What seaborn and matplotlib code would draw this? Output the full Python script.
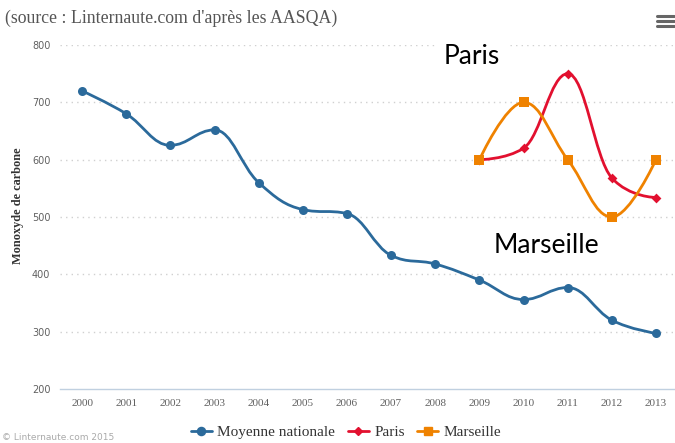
import numpy as np
import pandas as pd
import seaborn as sns
import matplotlib
matplotlib.use('Agg')
from matplotlib import pyplot as plt
from matplotlib.path import Path
from matplotlib.patches import PathPatch
from matplotlib.lines import Line2D

years = [str(y) for y in range(2000, 2014)]
moyenne = [720, 680, 625, 652, 560, 513, 506, 433, 418, 390, 356, 377, 320, 297]
paris_years = years[9:]
paris = [600, 620, 750, 568, 534]
marseille_years = years[9:]
marseille = [600, 700, 600, 500, 600]

blue = '#2b6a9b'
red = '#e2102f'
orange = '#ef8200'
serif = ['Liberation Serif', 'DejaVu Serif']


def spline_path(x, y, smoothing=1.5):
    # highcharts-like spline: bezier control points around each point
    n = len(x)
    denom = smoothing + 1
    left = [(x[i], y[i]) for i in range(n)]
    right = [(x[i], y[i]) for i in range(n)]
    for i in range(1, n - 1):
        lx = (smoothing * x[i] + x[i - 1]) / denom
        ly = (smoothing * y[i] + y[i - 1]) / denom
        rx = (smoothing * x[i] + x[i + 1]) / denom
        ry = (smoothing * y[i] + y[i + 1]) / denom
        if rx != lx:
            corr = (ry - ly) * (rx - x[i]) / (rx - lx) + y[i] - ry
            ly += corr
            ry += corr
        if ly > y[i - 1] and ly > y[i]:
            ly = max(y[i - 1], y[i])
            ry = 2 * y[i] - ly
        elif ly < y[i - 1] and ly < y[i]:
            ly = min(y[i - 1], y[i])
            ry = 2 * y[i] - ly
        if ry > y[i + 1] and ry > y[i]:
            ry = max(y[i + 1], y[i])
            ly = 2 * y[i] - ry
        elif ry < y[i + 1] and ry < y[i]:
            ry = min(y[i + 1], y[i])
            ly = 2 * y[i] - ry
        left[i] = (lx, ly)
        right[i] = (rx, ry)
    verts = [(x[0], y[0])]
    codes = [Path.MOVETO]
    for i in range(1, n):
        verts += [right[i - 1], left[i], (x[i], y[i])]
        codes += [Path.CURVE4] * 3
    return Path(verts, codes)


df = pd.concat([
    pd.DataFrame({'year': years, 'value': moyenne, 'serie': 'Moyenne nationale'}),
    pd.DataFrame({'year': paris_years, 'value': paris, 'serie': 'Paris'}),
    pd.DataFrame({'year': marseille_years, 'value': marseille, 'serie': 'Marseille'}),
])
df['pos'] = df['year'].map({y: i for i, y in enumerate(years)})

sns.set_style('white')
plt.rcParams['font.family'] = serif

fig = plt.figure(figsize=(6.75, 4.43), dpi=100)
ax = fig.add_axes([60 / 675, 1 - 389 / 443, 615 / 675, 344 / 443])

styles = {'Moyenne nationale': (blue, 'o', 6.5), 'Paris': (red, 'D', 5), 'Marseille': (orange, 's', 6.5)}
for name, (color, marker, ms) in styles.items():
    sub = df[df['serie'] == name]
    path = spline_path(sub['pos'].tolist(), sub['value'].tolist())
    ax.add_patch(PathPatch(path, facecolor='none', edgecolor=color, lw=2, zorder=3))
    sns.scatterplot(data=sub, x='pos', y='value', ax=ax, color=color, marker=marker,
                    s=ms ** 2, linewidth=0, zorder=4, legend=False)

ax.set_xlim(-0.5, 13.43)
ax.set_ylim(200, 800)
ax.set_yticks(range(200, 801, 100))
ax.set_yticklabels([str(v) for v in range(200, 801, 100)], fontsize=7, color='#606060',
                   family=['DejaVu Sans'])
ax.set_xticks(range(len(years)))
ax.set_xticklabels(years, fontsize=8, color='#606060')
ax.set_xticks(np.arange(-0.5, 13.5, 1), minor=True)
ax.tick_params(axis='x', which='major', length=0, pad=7)
ax.tick_params(axis='x', which='minor', length=5, color='#c0d0e0', width=1, direction='out')
ax.tick_params(axis='y', length=0, pad=7)
for v in range(300, 801, 100):
    ax.axhline(v, color='#d0d0d0', lw=1, ls=(0, (1, 3)), zorder=1)
for s in ['top', 'right', 'left']:
    ax.spines[s].set_visible(False)
ax.spines['bottom'].set_color('#c0d0e0')
ax.spines['bottom'].set_linewidth(1)
ax.set_xlabel('')
ax.set_ylabel('')
ax.grid(False)

fig.text(18 / 675, 1 - 206 / 443, 'Monoxyde de carbone', rotation=90, fontsize=8.8,
         fontweight='bold', color='#333333', ha='center', va='center')
fig.text(5 / 675, 1 - 18 / 443, "(source : Linternaute.com d'après les AASQA)",
         fontsize=12.8, color='#555555', ha='left', va='center')
fig.text(2 / 675, 1 - 437 / 443, '© Linternaute.com 2015', fontsize=6.5, color='#aaaaaa',
         ha='left', va='center', family=['DejaVu Sans'])

# hamburger menu icon
for yy in [16, 21, 26]:
    fig.add_artist(Line2D([657 / 675, 674 / 675], [1 - yy / 443] * 2, color='#666666', lw=2.2))

fig.text(472 / 675, 1 - 56 / 443, 'Paris', fontsize=19, color='black', ha='center', va='center',
         family=['Lato', 'DejaVu Sans'], bbox=dict(facecolor='white', edgecolor='none', pad=5))
fig.text(546 / 675, 1 - 246 / 443, 'Marseille', fontsize=19, color='black', ha='center', va='center',
         family=['Lato', 'DejaVu Sans'], bbox=dict(facecolor='white', edgecolor='none', pad=5))

handles = [Line2D([], [], color=c, marker=m, markersize=ms * 0.9, lw=2) for c, m, ms in styles.values()]
fig.legend(handles, list(styles.keys()), loc='center', bbox_to_anchor=(346 / 675, 1 - 432 / 443),
           ncol=3, frameon=False, fontsize=11, handlelength=1.4, handletextpad=0.35, columnspacing=0.8,
           labelcolor='#333333')

fig.savefig('out.png', dpi=100)
